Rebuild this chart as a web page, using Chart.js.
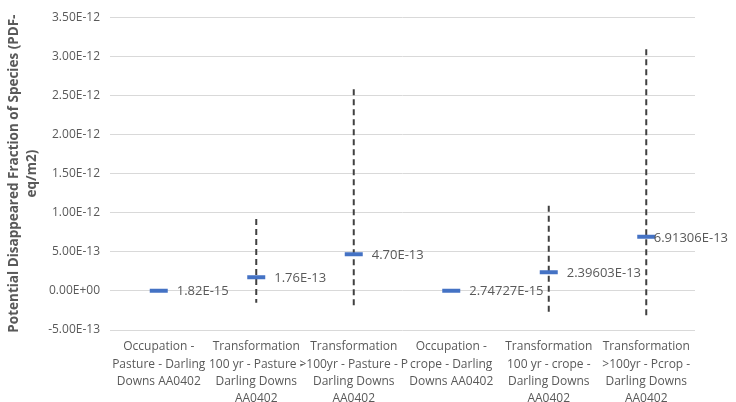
<!DOCTYPE html>
<html>
<head>
<meta charset="utf-8">
<script src="https://cdn.jsdelivr.net/npm/chart.js@4/dist/chart.umd.min.js"></script>
<style>
  html, body { margin: 0; padding: 0; background: #fff; }
  #wrap { width: 736px; height: 402px; }
</style>
</head>
<body>
<div id="wrap"><canvas id="myChart"></canvas></div>
<script>
// categories (multi-line, as shown under the axis)
const categories = [
  ["Occupation -", "Pasture - Darling", "Downs AA0402"],
  ["Transformation", "100 yr - Pasture -", "Darling Downs", "AA0402"],
  ["Transformation", ">100yr - Pasture - P", "Darling Downs", "AA0402"],
  ["Occupation -", "crope - Darling", "Downs AA0402"],
  ["Transformation", "100 yr - crope -", "Darling Downs", "AA0402"],
  ["Transformation", ">100yr - Pcrop -", "Darling Downs", "AA0402"]
];
const meanValues = [1.82e-15, 1.76e-13, 4.70e-13, 2.74727e-15, 2.39603e-13, 6.91306e-13];
const valueLabels = ["1.82E-15", "1.76E-13", "4.70E-13", "2.74727E-15", "2.39603E-13", "6.91306E-13"];
// error bar ends, null = none visible
const errLow = [null, -1.53e-13, -1.9e-13, null, -3.1e-13, -3.1e-13];
const errHigh = [null, 9.2e-13, 2.58e-12, null, 1.09e-12, 3.09e-12];

const yTitle = ["Potential Disappeared Fraction of Species (PDF-", "eq/m2)"];
const textGrey = "#595959";

// 3.50E-12 style
function sci(v) {
  if (Math.abs(v) < 1e-20) return "0.00E+00";
  let s = v.toExponential(2).toUpperCase();
  return s.replace(/E([+-])(\d)$/, "E$10$2");
}

// dashed error bars, drawn under the markers
const errorBars = {
  id: "errorBars",
  beforeDatasetsDraw(chart) {
    const ctx = chart.ctx;
    const x = chart.scales.x, y = chart.scales.y;
    ctx.save();
    ctx.strokeStyle = "#404040";
    ctx.lineWidth = 2;
    ctx.setLineDash([6, 4]);
    for (let i = 0; i < meanValues.length; i++) {
      if (errLow[i] === null) continue;
      const px = x.getPixelForValue(i);
      ctx.beginPath();
      ctx.moveTo(px, y.getPixelForValue(errHigh[i]));
      ctx.lineTo(px, y.getPixelForValue(errLow[i]));
      ctx.stroke();
    }
    ctx.restore();
  }
};

// value labels to the right of each marker
const valueLabelPlugin = {
  id: "valueLabels",
  afterDatasetsDraw(chart) {
    const ctx = chart.ctx;
    const meta = chart.getDatasetMeta(0);
    ctx.save();
    ctx.font = "13px 'Open Sans'";
    ctx.fillStyle = textGrey;
    ctx.textBaseline = "middle";
    meta.data.forEach((pt, i) => {
      const w = ctx.measureText(valueLabels[i]).width;
      const lx = Math.min(pt.x + 18, chart.width - 8 - w);
      ctx.fillText(valueLabels[i], lx, pt.y + 1);
    });
    ctx.restore();
  }
};

const config = {
  type: "line",
  data: {
    labels: categories,
    datasets: [{
      data: meanValues,
      showLine: false,
      pointStyle: "line",
      pointRadius: 9,
      pointHoverRadius: 9,
      pointBorderWidth: 4,
      borderColor: "#4472C4",
      backgroundColor: "#4472C4"
    }]
  },
  plugins: [errorBars, valueLabelPlugin],
  options: {
    responsive: true,
    maintainAspectRatio: false,
    animation: false,
    layout: { padding: { left: 0, right: 41, top: 15, bottom: 0 } },
    plugins: { legend: { display: false }, tooltip: { enabled: false } },
    scales: {
      x: {
        offset: true,
        grid: { display: false, drawTicks: false },
        border: { display: false },
        ticks: {
          color: textGrey,
          font: { family: "'Open Sans'", size: 12, lineHeight: 1.45 },
          maxRotation: 0,
          autoSkip: false,
          padding: 8
        },
        afterFit: (s) => { s.height = 72; }
      },
      y: {
        min: -5e-13,
        max: 3.5e-12,
        grid: { color: "#d9d9d9", drawTicks: false, lineWidth: 1 },
        border: { display: false },
        ticks: {
          stepSize: 5e-13,
          color: textGrey,
          font: { family: "'Open Sans'", size: 12 },
          padding: 10,
          callback: (v) => sci(v)
        },
        title: {
          display: true,
          text: yTitle,
          color: textGrey,
          font: { family: "'Open Sans'", size: 13.5, weight: "bold", lineHeight: 1.35 },
          padding: { top: 5, bottom: 2 }
        },
        afterFit: (s) => { s.width = 110; }
      }
    }
  }
};

const context = document.getElementById("myChart").getContext("2d");
const chart = new Chart(context, config);
</script>
</body>
</html>
